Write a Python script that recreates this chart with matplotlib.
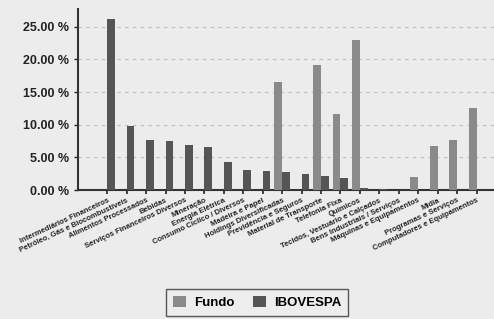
import numpy as np
import matplotlib
matplotlib.use('Agg')
import matplotlib.pyplot as plt
from matplotlib.ticker import FuncFormatter

setores = ['Intermediários Financeiros', 'Petróleo, Gás e Biocombustíveis',
           'Alimentos Processados', 'Bebidas', 'Serviços Financeiros Diversos',
           'Mineração', 'Energia Elétrica', 'Consumo Cíclico / Diversos',
           'Madeira e Papel', 'Holdings Diversificadas', 'Previdência e Seguros',
           'Material de Transporte', 'Telefonia Fixa', 'Químicos',
           'Tecidos, Vestuário e Calçados', 'Bens Industriais / Serviços',
           'Máquinas e Equipamentos', 'Mídia', 'Programas e Serviços',
           'Computadores e Equipamentos']
fundo = [0, 0, 0, 0, 0, 0, 0, 0, 0, 16.6, 0, 19.2, 11.7, 23.0, 0, 0, 1.95, 6.7, 7.6, 12.6]
ibovespa = [26.2, 9.85, 7.65, 7.45, 6.85, 6.6, 4.3, 3.1, 2.95, 2.8, 2.5, 2.2, 1.9, 0.35,
            0.1, 0.05, 0.05, 0, 0, 0]

plt.rcParams['font.family'] = ['Liberation Sans', 'DejaVu Sans']
fig = plt.figure(figsize=(4.94, 3.19), dpi=100, facecolor='#ececec')
ax = fig.add_axes([0.158, 0.404, 0.842, 0.568])
ax.set_facecolor('#ececec')

x = np.arange(len(setores))
w = 0.4
ax.bar(x - w / 2, fundo, w, color='#8a8a8a', label='Fundo', zorder=3)
ax.bar(x + w / 2, ibovespa, w, color='#555555', label='IBOVESPA', zorder=3)

ax.set_xlim(-1.5, 19.9)
ax.set_ylim(0, 27.7)
ax.set_yticks([0, 5, 10, 15, 20, 25])
ax.yaxis.set_major_formatter(FuncFormatter(lambda v, p: '%.2f %%' % v))
ax.grid(True, axis='y', linestyle=(0, (3, 4)), color='#bdbdbd', linewidth=0.8, zorder=0)

ax.set_xticks(x)
ax.set_xticklabels(setores, rotation=25, ha='right', rotation_mode='anchor',
                   fontsize=5.5, fontweight='bold', color='#222222')
ax.tick_params(axis='y', labelsize=9, length=3, width=1, colors='#222222')
ax.tick_params(axis='x', length=3, width=1.2, pad=2, colors='#222222')
for t in ax.get_yticklabels():
    t.set_fontweight('bold')

for s in ['top', 'right']:
    ax.spines[s].set_visible(False)
ax.spines['left'].set_color('#333333')
ax.spines['left'].set_linewidth(1.5)
ax.spines['bottom'].set_color('#333333')
ax.spines['bottom'].set_linewidth(1.5)

leg = fig.legend(loc='upper center', bbox_to_anchor=(0.52, 0.115), ncol=2,
                 frameon=True, fancybox=False, edgecolor='#333333', facecolor='#eeeeee',
                 prop={'size': 9.5, 'weight': 'bold'}, handlelength=1.0, handleheight=1.0,
                 columnspacing=1.4, handletextpad=0.6, borderpad=0.5)

fig.savefig('out.png', dpi=100, facecolor=fig.get_facecolor())
